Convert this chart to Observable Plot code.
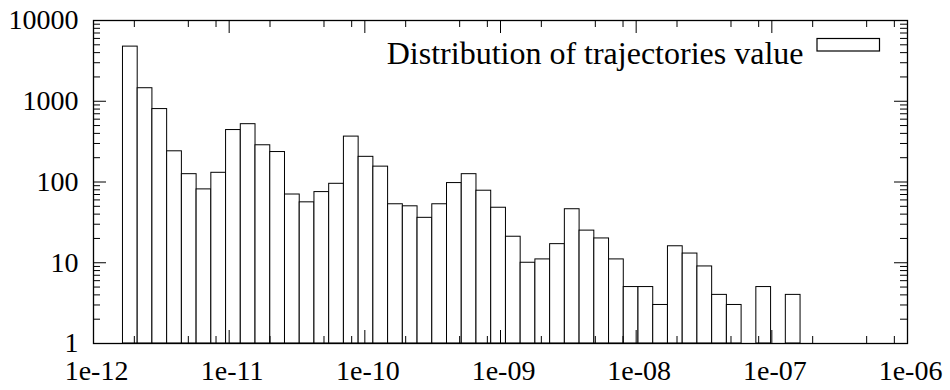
<!DOCTYPE html>
<html>
<head>
<meta charset="utf-8">
<script src="https://cdn.jsdelivr.net/npm/d3@7"></script>
<script src="https://cdn.jsdelivr.net/npm/@observablehq/plot@0.6"></script>
<style>
  html, body { margin: 0; padding: 0; background: #fff; }
</style>
</head>
<body>
<div id="chart"></div>
<script>
// Histogram bin edges (log-spaced)
const binEdges = [
  1.649e-12, 2.117e-12, 2.718e-12, 3.490e-12, 4.482e-12, 5.755e-12, 7.389e-12, 9.488e-12,
  1.218e-11, 1.564e-11, 2.009e-11, 2.579e-11, 3.312e-11, 4.252e-11, 5.460e-11, 7.011e-11, 9.002e-11,
  1.156e-10, 1.484e-10, 1.906e-10, 2.447e-10, 3.142e-10, 4.034e-10, 5.180e-10, 6.651e-10, 8.541e-10,
  1.097e-9, 1.408e-9, 1.808e-9, 2.322e-9, 2.981e-9, 3.828e-9, 4.915e-9, 6.311e-9, 8.103e-9,
  1.040e-8, 1.336e-8, 1.715e-8, 2.203e-8, 2.828e-8, 3.632e-8, 4.663e-8, 5.987e-8, 7.688e-8, 9.872e-8,
  1.268e-7, 1.628e-7
];
// Counts per bin
const binCounts = [
  4750, 1450, 800, 240, 125, 81, 130, 440, 520, 285,
  235, 70, 56, 75, 95, 365, 205, 155, 53, 50,
  36, 53, 97, 125, 78, 48, 21, 10, 11, 17,
  46, 25, 20, 11, 5, 5, 3, 16, 13, 9,
  4, 3, 0, 5, 0, 4
];
const xTickValues = [1e-12, 1e-11, 1e-10, 1e-9, 1e-8, 1e-7, 1e-6];
const xTickLabels = ["1e-12", "1e-11", "1e-10", "1e-09", "1e-08", "1e-07", "1e-06"];
const yTickValues = [1, 10, 100, 1000, 10000];
const yTickLabels = ["1", "10", "100", "1000", "10000"];
const xMinorMantissas = [2, 5, 8];
const yMinorMantissas = [2, 3, 4, 5, 6, 7, 8, 9];
const legendLabel = "Distribution of trajectories value";

const bars = binCounts.map((c, i) => ({lo: binEdges[i], hi: binEdges[i + 1], count: c}))
  .filter(d => d.count > 0);

const xMinor = [];
xTickValues.slice(0, -1).forEach(v => xMinorMantissas.forEach(m => xMinor.push(v * m)));
const yMinor = [];
yTickValues.slice(0, -1).forEach(v => yMinorMantissas.forEach(m => yMinor.push(v * m)));

const W = 950, H = 390;
const mL = 93, mR = 43, mT = 20, mB = 47;
const fw = W - mL - mR, fh = H - mT - mB;
const major = 13, minor = 7;
const font = "'Liberation Serif', 'Times New Roman', serif";

const labelFor = (vals, labels) => d => {
  let best = 0, bd = Infinity;
  vals.forEach((v, i) => { const e = Math.abs(Math.log10(v) - Math.log10(d)); if (e < bd) { bd = e; best = i; } });
  return labels[best];
};

const legendBox = (index, scales, values, dims) => {
  const ns = "http://www.w3.org/2000/svg";
  const r = document.createElementNS(ns, "rect");
  r.setAttribute("x", dims.width - dims.marginRight - 90);
  r.setAttribute("y", dims.marginTop + 18.5);
  r.setAttribute("width", 62.5);
  r.setAttribute("height", 12.5);
  r.setAttribute("fill", "white");
  r.setAttribute("stroke", "black");
  r.setAttribute("stroke-width", 1.2);
  return r;
};

const chart = Plot.plot({
  width: W, height: H,
  marginLeft: mL, marginRight: mR, marginTop: mT, marginBottom: mB,
  style: {fontFamily: font, fontSize: "28px", background: "white", color: "black"},
  x: {type: "log", domain: [1e-12, 1e-6], label: null},
  y: {type: "log", domain: [1, 10000], label: null},
  marks: [
    Plot.rect(bars, {x1: "lo", x2: "hi", y1: 1, y2: "count", fill: "white", stroke: "black", strokeWidth: 1}),
    // x ticks bottom & top
    Plot.ruleX(xTickValues, {insetTop: fh - major, stroke: "black"}),
    Plot.ruleX(xTickValues, {insetBottom: fh - major, stroke: "black"}),
    Plot.ruleX(xMinor, {insetTop: fh - minor, stroke: "black"}),
    Plot.ruleX(xMinor, {insetBottom: fh - minor, stroke: "black"}),
    // y ticks left & right
    Plot.ruleY(yTickValues, {insetRight: fw - major, stroke: "black"}),
    Plot.ruleY(yTickValues, {insetLeft: fw - major, stroke: "black"}),
    Plot.ruleY(yMinor, {insetRight: fw - minor, stroke: "black"}),
    Plot.ruleY(yMinor, {insetLeft: fw - minor, stroke: "black"}),
    Plot.axisX({ticks: xTickValues, tickFormat: labelFor(xTickValues, xTickLabels), tickSize: 0, tickPadding: 17, dx: 3, fontSize: 28, fill: "black", label: null}),
    Plot.axisY({ticks: yTickValues, tickFormat: labelFor(yTickValues, yTickLabels), tickSize: 0, tickPadding: 15, fontSize: 28, fill: "black", label: null}),
    Plot.frame({stroke: "black", strokeWidth: 1.3}),
    Plot.text([legendLabel], {text: d => d, frameAnchor: "top-right", dx: -104, dy: 21, textAnchor: "end", fontSize: 32, fill: "black"}),
    legendBox
  ]
});
document.getElementById("chart").appendChild(chart);
</script>
</body>
</html>
